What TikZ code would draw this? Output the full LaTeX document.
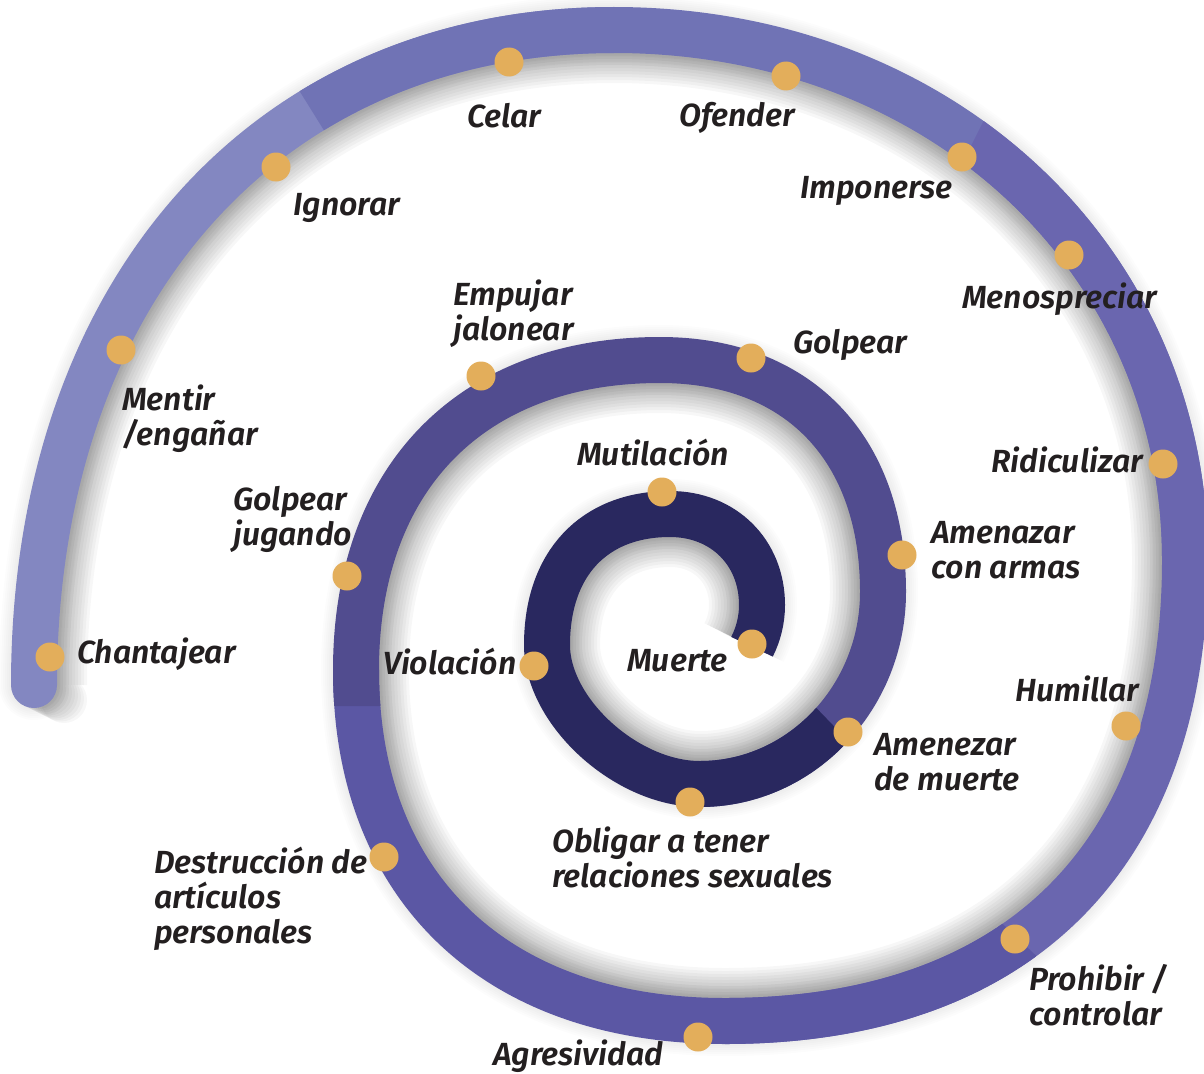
\documentclass[tikz,border=0pt]{standalone}
\usepackage{fontspec}
\setmainfont{Fira Sans}
\newfontfamily\labfont{Fira Sans SemiBold Italic}
\usetikzlibrary{calc}
\definecolor{cA}{HTML}{8387C1}
\definecolor{cB}{HTML}{7073B5}
\definecolor{cC}{HTML}{6A66AF}
\definecolor{cD}{HTML}{5B57A4}
\definecolor{cE}{HTML}{514C8F}
\definecolor{cF}{HTML}{29285F}
\definecolor{dotc}{HTML}{E3AE5B}
\definecolor{txt}{HTML}{231F20}
\tikzset{
 band/.style={line width=46pt},
 lab/.style={font=\labfont\fontsize{32}{35}\selectfont, text=txt, inner sep=0pt, anchor=base west},
 dot/.style={fill=dotc},
 q1/.style={insert path={.. controls ({34+#1},{685-0.6*(655-#1)}) and ({614-0.6*(580-#1)},{30+#1}) .. ({614},{30+#1})}},
 q2/.style={insert path={.. controls ({614+0.57*(571-#1)},{30+#1}) and ({1185-#1},{560-0.57*(530-#1)}) .. ({1185-#1},{560})}},
 q3/.style={insert path={.. controls ({1185-#1},{560+0.64*(461-#1)}) and ({725+0.64*(460-#1)},{1021-#1}) .. ({725},{1021-#1})}},
 q4/.style={insert path={.. controls ({725-0.62*(369-#1)},{1021-#1}) and ({356+#1},{670+0.62*(351-#1)}) .. ({356+#1},{670})}},
 q5/.style={insert path={.. controls ({356+#1},{670-0.62*(310-#1)}) and ({660-0.62*(304-#1)},{360+#1}) .. ({660},{360+#1})}},
 q6/.style={insert path={.. controls ({660+0.62*(223-#1)},{360+#1}) and ({883-#1},{592-0.62*(232-#1)}) .. ({883-#1},{592})}},
 q7/.style={insert path={.. controls ({883-#1},{592+0.55*(192-#1)}) and ({700+0.55*(183-#1)},{784-#1}) .. ({700},{784-#1})}},
 q8/.style={insert path={.. controls ({700-0.48*(153-#1)},{784-#1}) and ({547+#1},{645+0.48*(139-#1)}) .. ({547+#1},{645})}},
 q9/.style={insert path={.. controls ({547+#1},{645-0.62*(131-#1)}) and ({670-0.62*(123-#1)},{514+#1}) .. ({670},{514+#1})}},
 q10/.style={insert path={.. controls ({670+0.58*(92-#1)},{514+#1}) and ({762-#1},{605-0.58*(91-#1)}) .. ({762-#1},{605})}},
 q11/.style={insert path={.. controls ({762-#1},{605+0.1576*(92-#1)}) and ({670+0.9626*(92-#1)},{605+0.3136*(92-#1)}) .. ({670+0.891*(92-#1)},{605+0.454*(92-#1)})}},
 spiral/.style={q1=#1,q2=#1,q3=#1,q4=#1,q5=#1,q6=#1,q7=#1,q8=#1,q9=#1,q10=#1,q11=#1},
}
\begin{document}
\begin{tikzpicture}[x=1pt,y=-1pt]
\fill[white] (0,0) rectangle (1204,1073);
\useasboundingbox (0,0) rectangle (1204,1073);
% soft outer glow
\foreach \w in {50,54,...,70} {
  \begin{scope}[transparency group, opacity=0.012]
    \draw[black,line width=\w pt] (34,685) [spiral=0];
    \fill[black] (34,685) circle[radius=\w/2];
  \end{scope}
}
% inner shadow
\foreach \d in {3,6,...,30} {
  \begin{scope}[transparency group, opacity=0.033]
    \draw[black,line width=46pt] ({34+\d},685) [spiral=\d];
    \fill[black] ({34+\d},{685+0.5*\d}) circle[radius=23];
  \end{scope}
}
% colour bands
\fill[cA] (34,685) circle[radius=23];
\draw[band,cA] (34,685) [q1=0];
\begin{scope}
  \clip (-1282,-2452) -- (1886,2642) -- (4433,1058) -- (1265,-4036) -- cycle;
  \draw[band,cB] (34,685) [q1=0,q2=0];
\end{scope}
\begin{scope}
  \clip (2326,-2564) -- (-356,2800) -- (2326,4141) -- (5008,-1223) -- cycle;
  \draw[band,cC] (614,30) [q2=0,q3=0];
\end{scope}
\begin{scope}
  \clip (-1185,-1152) -- (3165,2976) -- (1101,5151) -- (-3249,1023) -- cycle;
  \draw[band,cD] (1185,560) [q3=0,q4=0];
\end{scope}
\begin{scope}
  \clip (-100,-100) -- (1300,-100) -- (1300,900) -- (690,900) -- (690,706) -- (-100,706) -- cycle;
  \draw[band,cE] (725,1021) [q4=0,q5=0,q6=0,q7=0];
\end{scope}
\begin{scope}
  \clip (800,-100) -- (800,691) -- (2206,2150) -- (-100,2150) -- (-100,-100) -- cycle;
  \draw[band,cF] (883,592) [q7=0,q8=0,q9=0,q10=0,q11=0];
\end{scope}
% dots
\foreach \p in {(50,657),(121,350),(276,167),(509,62),(786,76),(962,157),(1069,255),(1163,464),(1126,726),(1015,939),(698,1037),(384,857),(347,576),(481,376),(751,358),(902,555),(848,732),(690,802),(534,666),(662,492),(752,644)} {
  \fill[dot] \p circle[radius=14.5];
}
% labels
\node[lab] (celar) at (467,127) {Celar};
\node[lab] (ofender) at (679,126) {Ofender};
\node[lab] (ignorar) at (293,215) {Ignorar};
\node[lab] (imponerse) at (800,198) {Imponerse};
\node[lab] (menospreciar) at (962,308) {Menospreciar};
\node[lab] (empujar1) at (453,305) {Empujar};
\node[lab] (empujar2) at (453,340) {jalonear};
\node[lab] (golpear) at (793,353) {Golpear};
\node[lab] (mentir1) at (122,410) {Mentir};
\node[lab] (mentir2) at (122,445) {/engañar};
\node[lab] (ridiculizar) at (991,472) {Ridiculizar};
\node[lab] (armas1) at (931,543) {Amenazar};
\node[lab] (armas2) at (931,578) {con armas};
\node[lab] (mutilacion) at (577,465) {Mutilación};
\node[lab] (jugando1) at (233,510) {Golpear};
\node[lab] (jugando2) at (233,545) {jugando};
\node[lab] (chantajear) at (77,663) {Chantajear};
\node[lab] (violacion) at (383,674) {Violación};
\node[lab] (muerte) at (627,671) {Muerte};
\node[lab] (humillar) at (1015,701) {Humillar};
\node[lab] (amuerte1) at (874,755) {Amenezar};
\node[lab] (amuerte2) at (874,790) {de muerte};
\node[lab] (obligar1) at (552,852) {Obligar a tener};
\node[lab] (obligar2) at (552,887) {relaciones sexuales};
\node[lab] (destr1) at (154,873) {Destrucción de};
\node[lab] (destr2) at (154,908) {artículos};
\node[lab] (destr3) at (154,943) {personales};
\node[lab] (prohibir1) at (1029,990) {Prohibir /};
\node[lab] (prohibir2) at (1029,1025) {controlar};
\node[lab] (agresividad) at (493,1065) {Agresividad};
\end{tikzpicture}
\end{document}
